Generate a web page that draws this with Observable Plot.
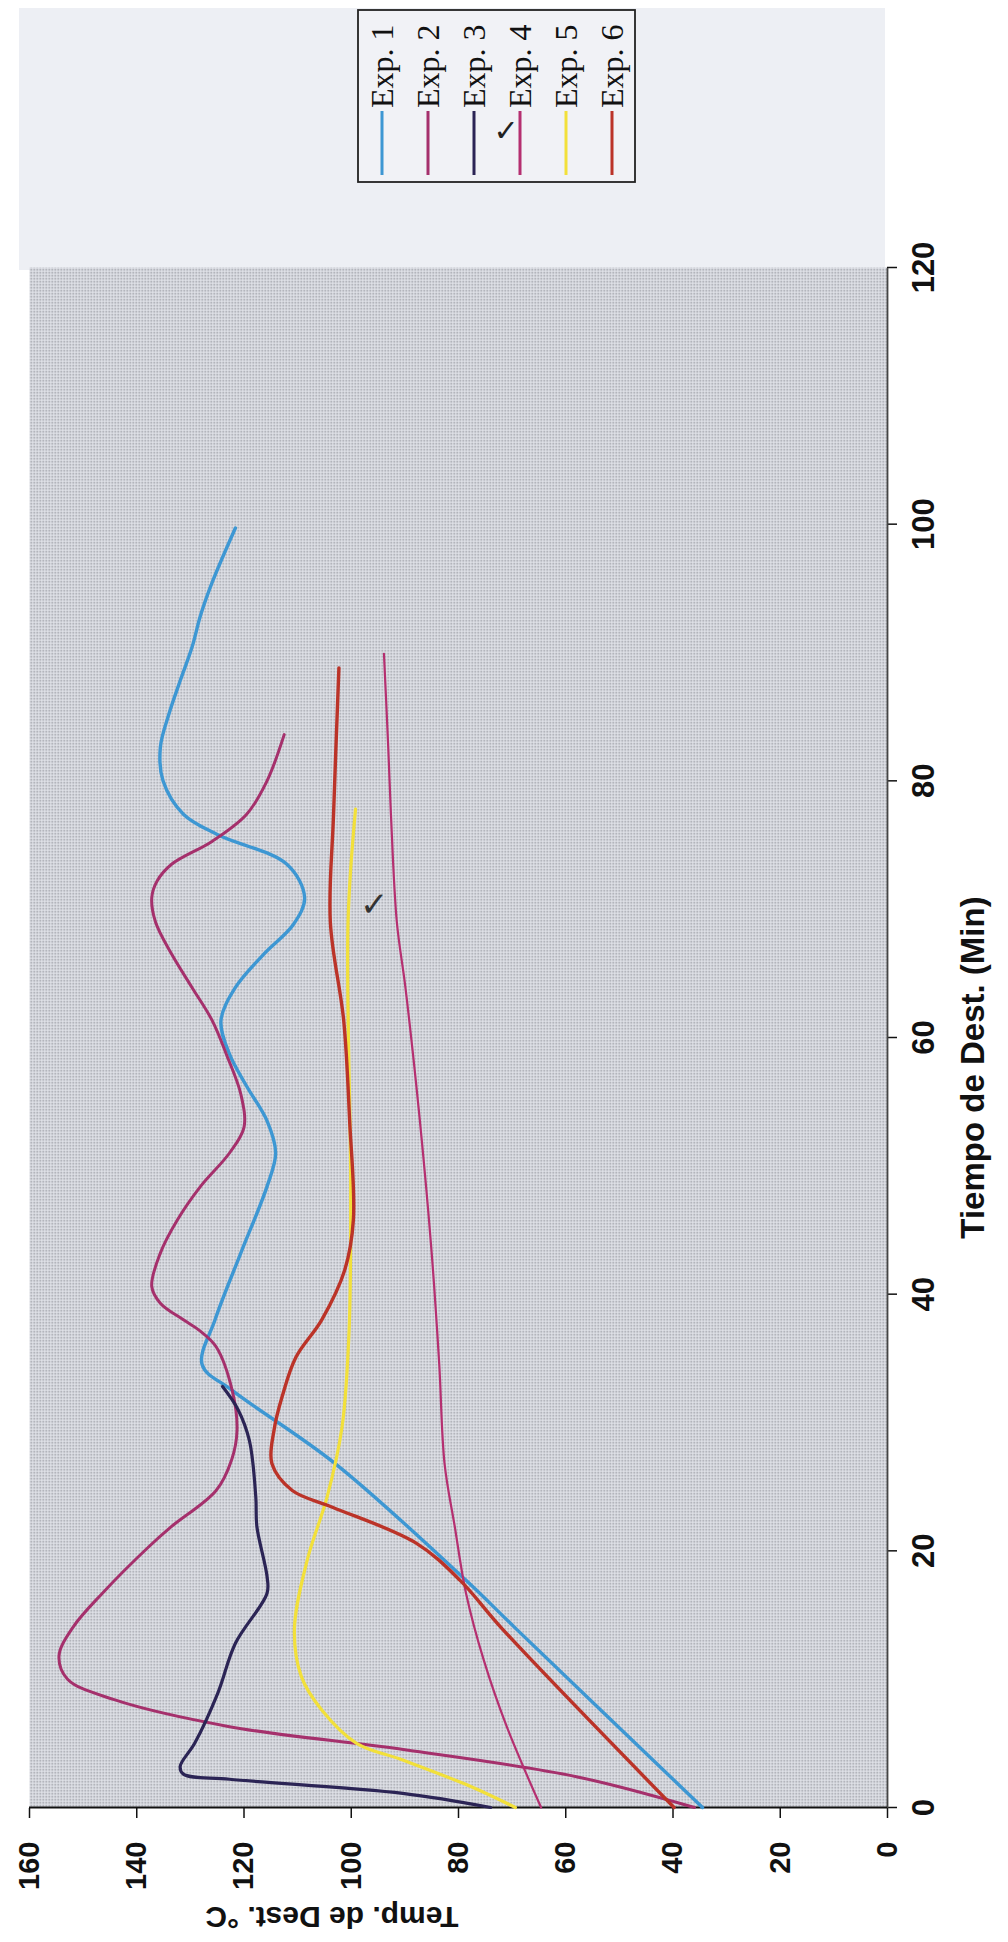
<!DOCTYPE html>
<html><head><meta charset="utf-8">
<script src="https://cdn.jsdelivr.net/npm/d3@7"></script>
<script src="https://cdn.jsdelivr.net/npm/@observablehq/plot@0.6"></script>
<style>
html,body{margin:0;padding:0;background:#fff;overflow:hidden;width:1008px;height:1942px;}
#wrap{position:absolute;left:0;top:0;width:1942px;height:1008px;transform-origin:0 0;transform:translate(0,1942px) rotate(-90deg);}
</style></head>
<body><div id="wrap"></div>
<script>
// ---- data (time in min, temperature in °C) ----
const seriesNames = ["Exp. 1", "Exp. 2", "Exp. 3", "Exp. 4", "Exp. 5", "Exp. 6"];
const seriesColors = ["#3d97d3", "#a5306c", "#2b2455", "#b52f70", "#f2e03a", "#bb3328"];
const seriesWidths = [3.4, 3, 3.2, 2.2, 3.2, 3.4];
const timeTicks = [0, 20, 40, 60, 80, 100, 120];
const tempTicks = [0, 20, 40, 60, 80, 100, 120, 140, 160];
const xTitle = "Tiempo de Dest. (Min)";
const yTitle = "Temp. de Dest. °C";

const exp1 = [[0,34.5],[13.9,69.2],[17.7,78.6],[26.8,103],[32.5,122.2],[34.5,127.8],[38,125.4],[43.2,120.6],[48.4,115.7],[51,114.1],[53.5,115.7],[56.2,119.5],[58.7,122.7],[61.3,124.3],[63.9,121.6],[66.5,116.3],[68.8,110.8],[70.9,108.7],[73.5,112],[75.8,124.9],[77.4,131.3],[80,135.1],[82.6,135.6],[85.2,134],[87.8,131.9],[90.4,129.7],[92.9,128.1],[95.5,125.9],[99.7,121.6]];
const exp2 = [[0,36],[2.4,58],[4.5,90],[6.3,122.7],[8.4,144.2],[10,152.9],[11.8,154.5],[14.1,151.8],[16.7,146.4],[20.3,137.8],[21.9,133.5],[24.7,125.2],[27.1,122.3],[29.4,121.3],[32.5,122.2],[35.9,125.2],[37.2,128.4],[38,131.3],[39.3,135.6],[40.6,137.2],[43.2,135.6],[45.8,132.4],[48.4,128.1],[51,122.7],[53,120],[55.6,120.6],[58.7,123.3],[61.3,125.9],[63.9,129.7],[66.5,133.5],[69,136.5],[70.9,137.2],[72.2,136.2],[73.5,133.5],[75.3,125.9],[77.4,119.5],[80,115.7],[83.6,112.5]];
const exp3 = [[0,74],[1.1,90.4],[2.2,122.7],[2.6,131.3],[3.2,131.9],[5,129.2],[8.9,124.9],[12.8,121.6],[16.7,115.7],[18,115.7],[21.9,117.6],[24.2,117.8],[28.6,119],[31,121.1],[32.8,124]];
const exp4 = [[0,64.6],[6.3,71],[11.5,75.3],[16.7,78.6],[21.9,80.7],[26.8,82.6],[34.6,83.6],[43.2,85],[53.5,87.2],[63.9,89.9],[69,91.5],[77.4,92.6],[82.6,93.1],[89.9,93.9]];
const exp5 = [[0,69.4],[1.6,77.5],[3.7,90.4],[5,99],[7.6,105.5],[10.2,109.3],[13.9,110.6],[19.3,108.2],[24.2,104.5],[29.7,101.7],[37.2,100.4],[48.4,100.1],[69,100.6],[77.8,99.2]];
const exp6 = [[0,39.8],[13.9,71.8],[17.7,79.7],[20.6,87.9],[23.4,103.5],[24.7,111],[26.8,114.8],[29.4,114.4],[32,112.9],[35.1,110.3],[38,105.5],[41.9,101.2],[45.8,99.6],[53.5,100.3],[61.3,101.4],[69,103.9],[77.4,103.3],[88.8,102.3]];
const checkMarks = [[70.3, 95.7]];

const allSeries = [exp1, exp2, exp3, exp4, exp5, exp6];
const W = 1942, H = 1008;
const mL = 134, mR = 268, mT = 29, mB = 121;

const lineMarks = allSeries.map((s, i) =>
  Plot.line(s.map(([t, v]) => ({t, v})), {
    x: "t", y: "v", stroke: seriesColors[i], strokeWidth: seriesWidths[i],
    curve: "catmull-rom", strokeLinejoin: "round", strokeLinecap: "round"
  })
);

const chart = Plot.plot({
  width: W, height: H,
  marginLeft: mL, marginRight: mR, marginTop: mT, marginBottom: mB,
  style: {fontFamily: "'Liberation Sans', Arial, sans-serif", background: "transparent", color: "#111"},
  x: {domain: [0, 120], ticks: timeTicks},
  y: {domain: [0, 160], ticks: tempTicks},
  marks: [
    Plot.frame({fill: "url(#dots)", stroke: null}),
    Plot.axisX({ticks: timeTicks, tickSize: 10, tickPadding: 14, fontSize: 31, fontWeight: "bold", label: null, strokeWidth: 1.5}),
    Plot.axisY({ticks: tempTicks, tickSize: 10, tickPadding: 24, fontSize: 29, fontWeight: "bold", label: null, strokeWidth: 1.5}),
    Plot.ruleY([0], {stroke: "#444", strokeWidth: 1.8}),
    Plot.ruleX([0], {stroke: "#111", strokeWidth: 1.8}),
    ...lineMarks,
    Plot.text(checkMarks.map(([t, v]) => ({t, v})), {x: "t", y: "v", text: () => "✓", fontSize: 34, fill: "#333", fontFamily: "DejaVu Sans", rotate: 90}),
    Plot.text([xTitle], {frameAnchor: "bottom", dy: 96, dx: -30, fontSize: 33, fontWeight: "bold"}),
    Plot.text([yTitle], {frameAnchor: "left", dx: -109, rotate: -90, fontSize: 30, fontWeight: "bold"})
  ]
});

const svg = d3.select(chart);
const defs = svg.insert("defs", ":first-child");
const pat = defs.append("pattern").attr("id", "dots").attr("patternUnits", "userSpaceOnUse").attr("width", 3).attr("height", 3);
pat.append("rect").attr("width", 3).attr("height", 3).attr("fill", "#e3e5eb");
pat.append("rect").attr("width", 1.5).attr("height", 1.5).attr("fill", "#8e9098");

// light panel behind legend (outside plot area)
svg.insert("rect", "defs + *").attr("x", 1672).attr("y", 19).attr("width", 262).attr("height", 866).attr("fill", "#edeff4");

// legend
const lg = svg.append("g").attr("text-anchor", "start");
lg.append("rect").attr("x", 1760).attr("y", 358).attr("width", 172).attr("height", 277)
  .attr("fill", "#f1f2f6").attr("stroke", "#222").attr("stroke-width", 1.8);
seriesNames.forEach((name, i) => {
  const yy = 382 + i * 46;
  lg.append("line").attr("x1", 1767).attr("x2", 1831).attr("y1", yy).attr("y2", yy)
    .attr("stroke", seriesColors[i]).attr("stroke-width", 3);
  lg.append("text").attr("x", 1834).attr("y", yy).attr("dy", "0.35em").attr("text-anchor", "start")
    .attr("font-family", "'Liberation Serif', 'Times New Roman', serif").attr("font-size", 32)
    .attr("fill", "#111").text(name);
});
lg.append("text").attr("x", 1812).attr("y", 506).attr("dy", "0.35em").attr("text-anchor", "middle")
  .attr("font-family", "DejaVu Sans").attr("font-size", 30).attr("fill", "#222")
  .attr("transform", "rotate(90 1812 506)").text("✓");

document.getElementById("wrap").appendChild(chart);
</script>
</body></html>
